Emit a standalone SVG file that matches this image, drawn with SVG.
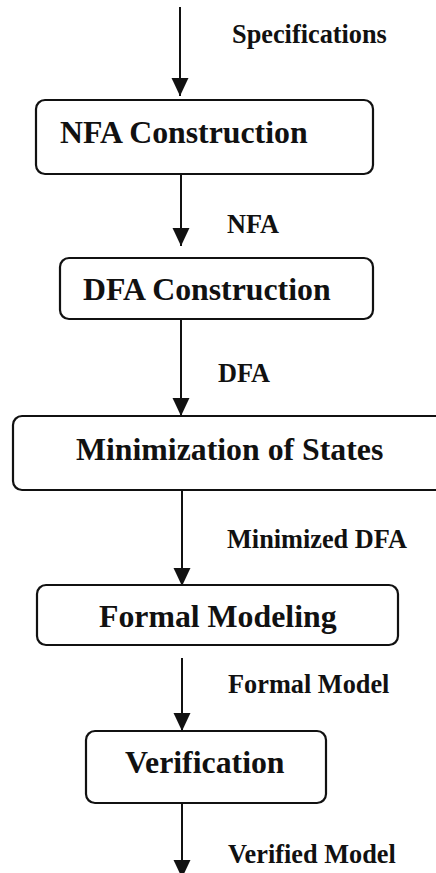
<svg xmlns="http://www.w3.org/2000/svg" width="436" height="873" viewBox="0 0 436 873">
  <style>
    .box { fill: #ffffff; stroke: #111111; stroke-width: 2.2; }
    .title { font-family: "Liberation Serif", "Times New Roman", serif; font-weight: bold; font-size: 31.8px; fill: #111111; }
    .lbl { font-family: "Liberation Serif", "Times New Roman", serif; font-weight: bold; font-size: 26.3px; fill: #111111; }
    .edge { stroke: #111111; stroke-width: 2; fill: none; marker-end: url(#head); }
  </style>
  <defs>
    <marker id="head" markerUnits="userSpaceOnUse" markerWidth="18" markerHeight="18" viewBox="0 0 17 16" refX="17" refY="8" orient="auto">
      <path d="M0,0 L17,8 L0,16 Z" fill="#111111"/>
    </marker>
  </defs>
  <rect width="436" height="873" fill="#ffffff"/>

  <g id="connectors">
    <line class="edge" x1="180" y1="7" x2="180" y2="96"/>
    <line class="edge" x1="181" y1="174" x2="181" y2="246"/>
    <line class="edge" x1="181" y1="319" x2="181" y2="416"/>
    <line class="edge" x1="182" y1="490" x2="182" y2="586"/>
    <line class="edge" x1="182" y1="658" x2="182" y2="731"/>
    <line class="edge" x1="182" y1="803" x2="182" y2="878"/>
  </g>

  <g id="labels">
    <text class="lbl" x="232" y="43">Specifications</text>
    <text class="lbl" x="227" y="233">NFA</text>
    <text class="lbl" x="218" y="382">DFA</text>
    <text class="lbl" x="227" y="548">Minimized DFA</text>
    <text class="lbl" x="228" y="693">Formal Model</text>
    <text class="lbl" x="228" y="863">Verified Model</text>
  </g>

  <g id="nfa-construction">
    <rect class="box" x="36" y="100" width="337" height="74" rx="9"/>
    <text class="title" x="60" y="143">NFA Construction</text>
  </g>
  <g id="dfa-construction">
    <rect class="box" x="60" y="258" width="313" height="61" rx="9"/>
    <text class="title" x="83" y="300">DFA Construction</text>
  </g>
  <g id="minimization">
    <rect class="box" x="13" y="416" width="440" height="74" rx="9"/>
    <text class="title" x="76" y="460">Minimization of States</text>
  </g>
  <g id="formal-modeling">
    <rect class="box" x="37" y="585" width="361" height="60" rx="9"/>
    <text class="title" x="99" y="627">Formal Modeling</text>
  </g>
  <g id="verification">
    <rect class="box" x="86" y="731" width="240" height="72" rx="9"/>
    <text class="title" x="125" y="773">Verification</text>
  </g>
</svg>
